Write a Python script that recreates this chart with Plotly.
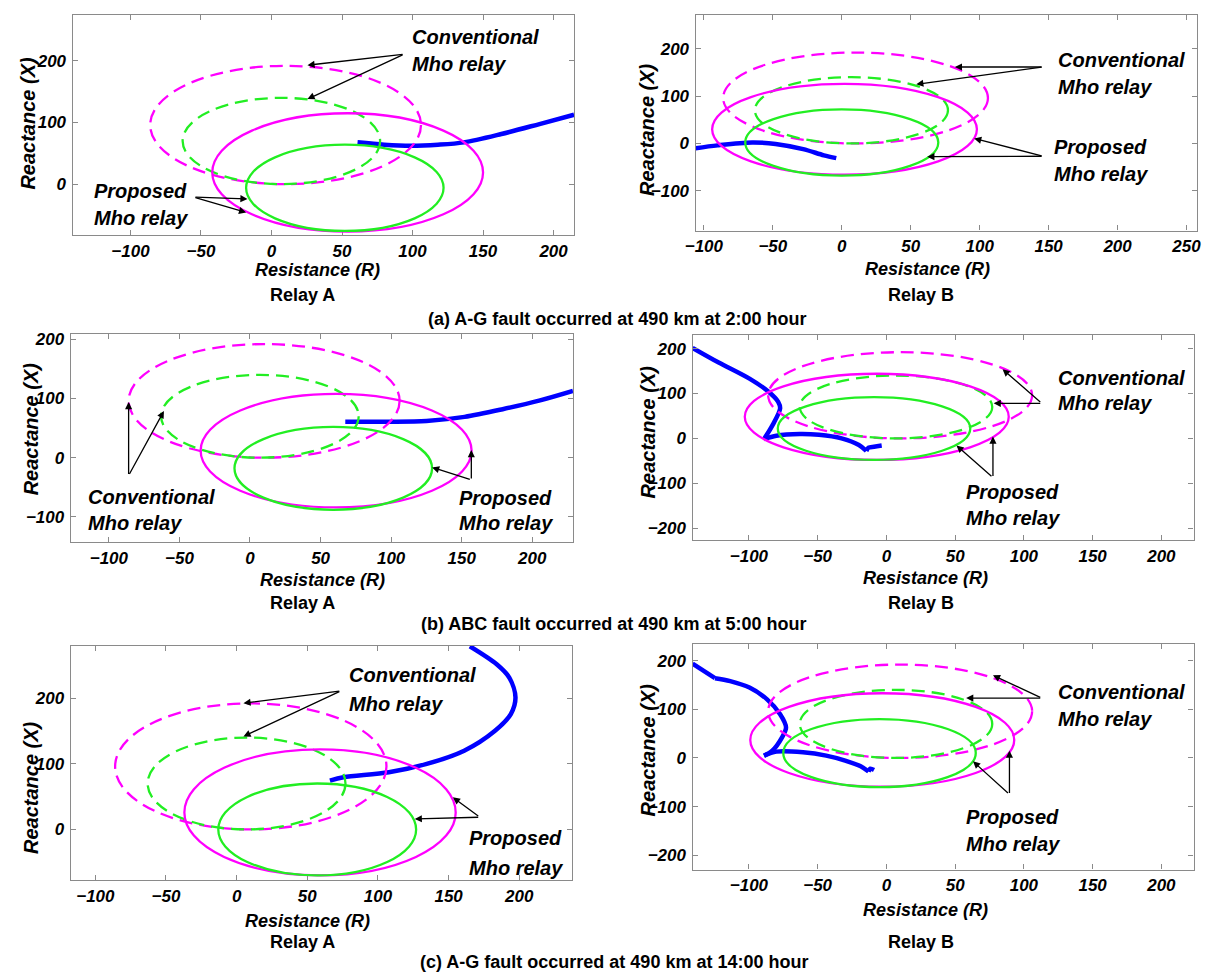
import plotly.graph_objects as go

W, H = 1209, 973
FONT = "Arial, Liberation Sans, sans-serif"

# ---------------- data ----------------
# conventional mho circles (same for every panel): centre R, centre X, radius
conv_mag = (10, 96, 96)
conv_grn = (7, 70, 70)

# proposed mho circles per panel (centre R, centre X, radius)
prop_mag = [(54, 19, 96), (2, 30, 96), (61, 12, 96), (-7, 48, 96), (59, 26, 96), (-3, 37, 96)]
prop_grn = [(52, -6, 70), (0, 2, 70), (59, -18, 70), (-9, 22, 70), (57, 0, 70), (-5, 10, 70)]

# impedance trajectories (blue)
traj1_R = [61, 80, 99, 118, 136.5, 163, 190, 214.5]
traj1_X = [67.8, 64, 62.4, 64, 67.8, 81.3, 97.5, 112.6]
traj2_R = [-106, -90, -65, -48, -28, -13, -4]
traj2_X = [-10, -4, 2, -1, -12, -25, -31]
traj3_R = [67.5, 98, 125, 152, 179, 205.5, 228.8]
traj3_X = [60.7, 60.7, 62, 69, 82, 97, 113]
traj4_R = [-141, -122, -99.6, -85.7, -78.7, -77.3, -82.8, -89, -80, -63, -49, -32.6, -20, -14.6, -13, -9, -3.4]
traj4_X = [201.6, 169, 133, 104, 81.6, 66.7, 29.6, -1.5, 6, 9.8, 8, 0, -14.8, -28, -20.7, -18.5, -16]
traj5_R = [66, 75.6, 107.7, 134.5, 161, 182.6, 194, 197.3, 193, 184, 165]
traj5_X = [74.4, 79.4, 87, 99.8, 120, 150, 175.7, 200.9, 231, 251.6, 279]
traj6_R = [-141, -124.7, -113.6, -99.6, -87, -77.3, -73, -76, -83, -89, -80, -60.6, -43.8, -30, -18.7, -13, -11.7, -9]
traj6_X = [193.8, 164, 158, 144.7, 121, 90, 62.7, 42, 15, 4.7, 13, 11.5, 4.7, -5.5, -17, -28, -22, -24.6]
traj_R = [traj1_R, traj2_R, traj3_R, traj4_R, traj5_R, traj6_R]
traj_X = [traj1_X, traj2_X, traj3_X, traj4_X, traj5_X, traj6_X]
# indices of sharp corners in each trajectory (curve is smooth between them)
traj_corners = [[], [], [], [7, 13], [], [1, 9, 15]]

# axis ranges per panel
x_ranges = [[-141, 214.5], [-106, 257.6], [-127, 228.8], [-141, 223.4], [-117.4, 237.4], [-141, 223.4]]
y_ranges = [[-82.5, 275], [-184, 272], [-143, 209.6], [-227, 231], [-77.4, 279.4], [-229.5, 234.8]]

# label texts
conv_text = ["Conventional", "Mho relay"]
prop_text = ["Proposed", "Mho relay"]
relay_names = ["Relay A", "Relay B", "Relay A", "Relay B", "Relay A", "Relay B"]
captions = ["(a) A-G fault occurred at 490 km at 2:00 hour",
            "(b) ABC fault occurred at 490 km at 5:00 hour",
            "(c) A-G fault occurred at 490 km at 14:00 hour"]

# label anchors (data coords): left x, first line y, second line y
conv_lab = [(98, 238, 195), (155, 176, 120), (-116, -67, -111), (123.4, 135, 78), (78, 234.6, 190.6), (123.4, 136.5, 80)]
prop_lab = [(-127, -11.6, -55), (152.6, -7, -64.6), (146.6, -68.6, -111), (56.6, -120, -178), (163, -13, -58.8), (56.6, -121.7, -176)]
# arrows: tail, [heads]
conv_arrows = [((94, 211), [(25.5, 193), (25.5, 138)]),
               ((146, 161.5), [(82, 161.5), (54, 125)]),
               ((-86, -30), [(-86, 94), (-61, 79)]),
               ((113, 78), [(84.5, 154), (78, 78)]),
               ((73.7, 211), [(4.8, 192.4), (4.8, 141.7)]),
               ((113, 123), [(77.5, 170), (58, 123)])]
prop_arrows = [((-55, -21), [(-17, -24), (-18, -46)]),
               ((146, -27), [(96, 10.5), (62, -28)]),
               ((156.8, -37.6), [(156.8, 13), (129, -16.4)]),
               ((77.5, -87), [(77.5, 4), (51, -16)]),
               ((172, 18.7), [(153, 49), (126, 16)]),
               ((89.5, -75), [(89.5, 15), (63, -7)])]

# ---------------- layout geometry (pixels) ----------------
boxes = [(62.4, 570.1, 11.7, 232.7), (693.2, 1200.9, 11.7, 228.3),
         (60.5, 569.0, 331.7, 541.0), (690.1, 1197.4, 332.7, 539.0),
         (60.5, 568.2, 645.0, 880.0), (690.1, 1197.4, 642.7, 869.3)]
ytitle_pos = [(17.2, 120), (644.7, 126.7), (19.9, 427), (644.7, 430), (21, 786.7), (644.7, 749)]
xtitle_pos = [(310, 268), (928, 266.7), (315.7, 579), (925.5, 576.7), (300.4, 921), (925.5, 910)]
relay_pos = [(295.4, 293), (921.6, 293.3), (295.4, 601.7), (921.6, 601.7), (295.4, 941.7), (921.6, 941.7)]
caption_pos = [(614, 317), (610, 623), (611, 961.7)]


def px(x):
    return x / W


def py(y):
    return 1 - y / H


MAG = "#FF00FF"
GRN = "#22EE22"
BLU = "#0000FF"

fig = go.Figure()
layout = dict(width=W, height=H, margin=dict(l=0, r=0, t=0, b=0),
              paper_bgcolor="white", plot_bgcolor="white", showlegend=False)
shapes = []
annotations = []

axis_common = dict(showgrid=False, zeroline=False, showline=True, linecolor="#8a8a8a", linewidth=1.3,
                   mirror="ticks", ticks="inside", ticklen=5, tickcolor="#8a8a8a", tickwidth=1,
                   tickfont=dict(family=FONT, size=17, color="black", weight="bold", style="italic"))

for i in range(6):
    n = i + 1
    sfx = "" if n == 1 else str(n)
    xa, ya = "x" + sfx, "y" + sfx
    l, r, t, b = boxes[i]
    layout["xaxis" + sfx] = dict(axis_common, domain=[px(l), px(r)], range=x_ranges[i], anchor=ya,
                                 tick0=0, dtick=50, ticklabelstandoff=0)
    layout["yaxis" + sfx] = dict(axis_common, domain=[py(b), py(t)], range=y_ranges[i], anchor=xa,
                                 tick0=0, dtick=100, ticklabelstandoff=2)

    # circles
    def circ(c, color, dash):
        cx, cy, rr = c
        shapes.append(dict(type="circle", xref=xa, yref=ya, x0=cx - rr, x1=cx + rr, y0=cy - rr, y1=cy + rr,
                           line=dict(color=color, width=2.3, dash=dash), layer="above"))
    circ(conv_mag, MAG, "13px,7px")
    circ(conv_grn, GRN, "13px,7px")
    circ(prop_mag[i], MAG, "solid")
    circ(prop_grn[i], GRN, "solid")

    # trajectory, smooth between corner points
    R, X = traj_R[i], traj_X[i]
    cuts = [0] + traj_corners[i] + [len(R) - 1]
    for a, bnd in zip(cuts[:-1], cuts[1:]):
        fig.add_trace(go.Scatter(x=R[a:bnd + 1], y=X[a:bnd + 1], mode="lines", xaxis=xa, yaxis=ya,
                                 line=dict(color=BLU, width=4.5, shape="spline", smoothing=0.9),
                                 hoverinfo="skip"))

    lab_font = dict(family=FONT, size=20, color="black", weight="bold", style="italic")
    for lab, txt in ((conv_lab[i], conv_text), (prop_lab[i], prop_text)):
        lx, y1, y2 = lab
        for yy, tt in ((y1, txt[0]), (y2, txt[1])):
            annotations.append(dict(xref=xa, yref=ya, x=lx, y=yy, text=tt, showarrow=False,
                                    xanchor="left", yanchor="middle", font=lab_font))
    for tail, heads in (conv_arrows[i], prop_arrows[i]):
        for hx, hy in heads:
            annotations.append(dict(xref=xa, yref=ya, x=hx, y=hy, ax=tail[0], ay=tail[1],
                                    axref=xa, ayref=ya, text="", showarrow=True,
                                    arrowhead=2, arrowsize=1.1, arrowwidth=1.3,
                                    arrowcolor="black", standoff=0, startstandoff=0))

    # axis titles
    tf = dict(family=FONT, size=18, color="black", weight="bold", style="italic")
    annotations.append(dict(xref="paper", yref="paper", x=px(ytitle_pos[i][0]), y=py(ytitle_pos[i][1]),
                            text="Reactance (X)", textangle=-90, showarrow=False,
                            xanchor="center", yanchor="middle", font=dict(tf, size=20)))
    annotations.append(dict(xref="paper", yref="paper", x=px(xtitle_pos[i][0]), y=py(xtitle_pos[i][1]),
                            text="Resistance (R)", showarrow=False,
                            xanchor="center", yanchor="middle", font=tf))
    annotations.append(dict(xref="paper", yref="paper", x=px(relay_pos[i][0]), y=py(relay_pos[i][1]),
                            text=relay_names[i], showarrow=False, xanchor="center", yanchor="middle",
                            font=dict(family=FONT, size=18, color="black", weight="bold")))

for cap, (cx, cy) in zip(captions, caption_pos):
    annotations.append(dict(xref="paper", yref="paper", x=px(cx), y=py(cy), text=cap, showarrow=False,
                            xanchor="center", yanchor="middle",
                            font=dict(family=FONT, size=18, color="black", weight="bold")))

layout["shapes"] = shapes
layout["annotations"] = annotations
fig.update_layout(**layout)
fig.write_html("out.html")
